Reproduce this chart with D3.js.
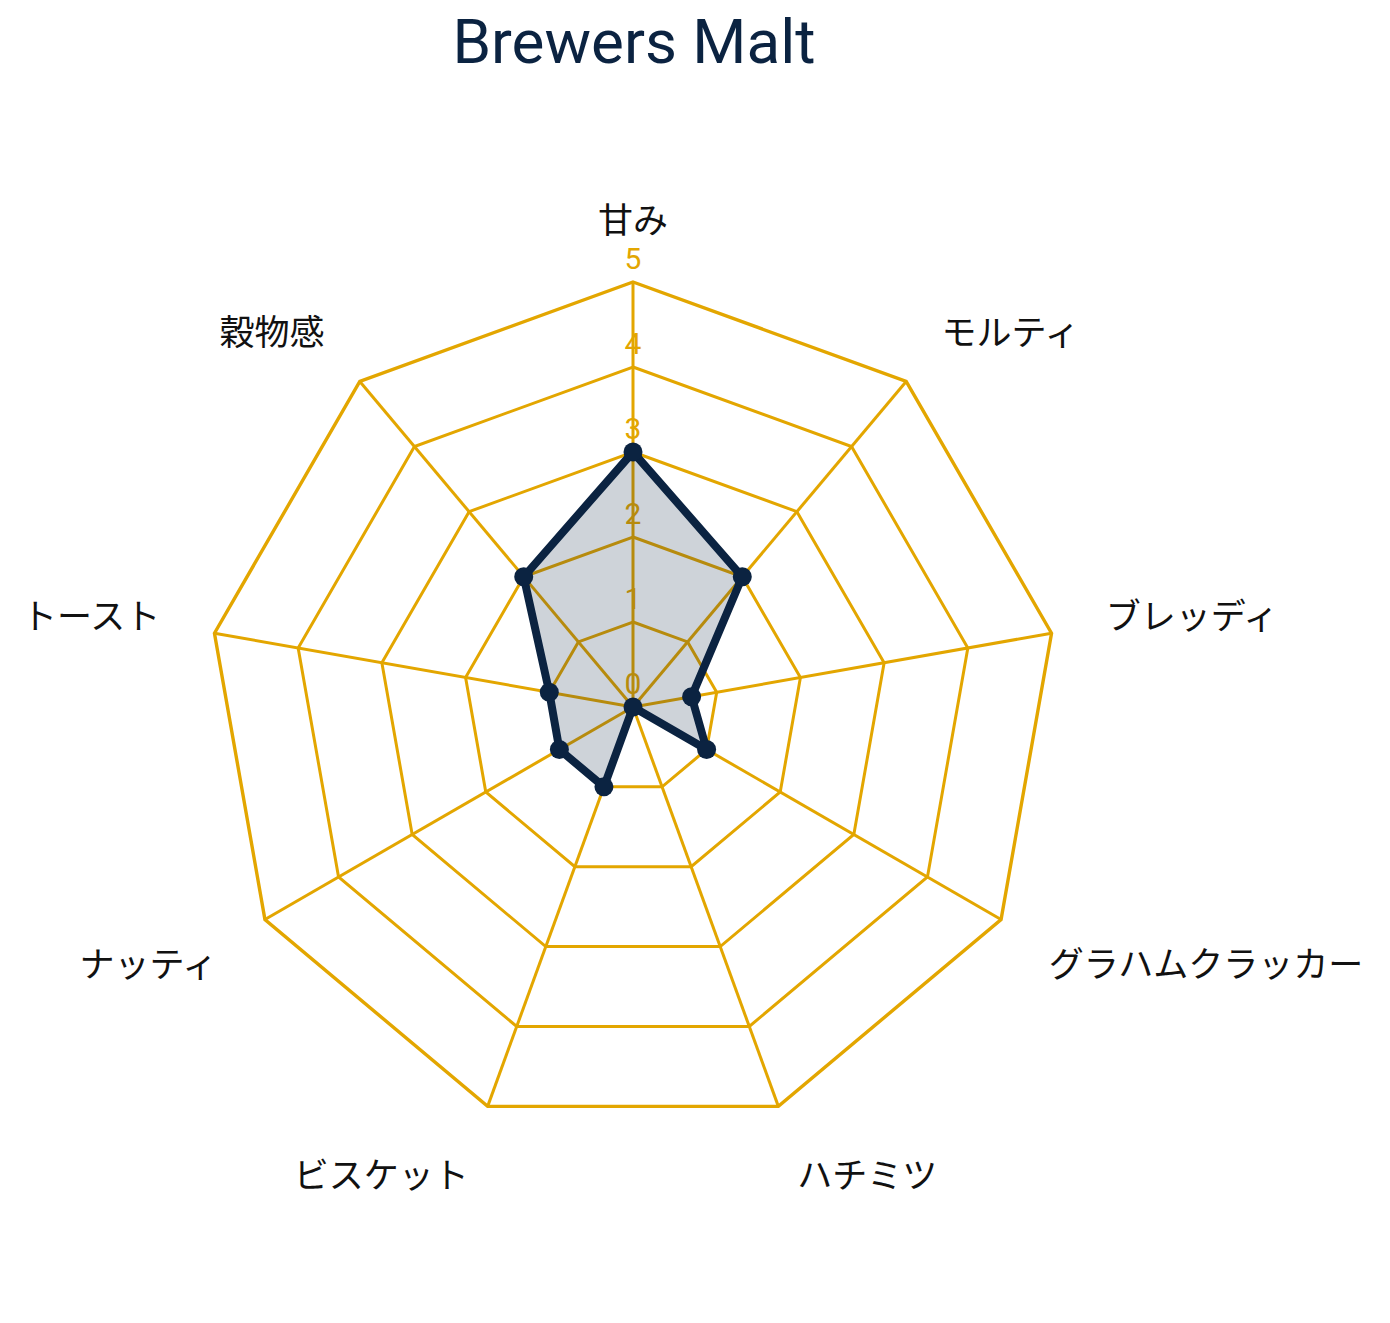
<!DOCTYPE html>
<html>
<head>
<meta charset="utf-8">
<script src="https://cdn.jsdelivr.net/npm/d3@7"></script>
<style>
  body { margin: 0; background: #fff; }
</style>
</head>
<body>
<div id="radar-chart"></div>
<script>
// data
let axes = ["甘み", "モルティ", "ブレッディ", "グラハムクラッカー", "ハチミツ", "ビスケット", "ナッティ", "トースト", "穀物感"];
let values = [3, 2, 0.7, 1, 0, 1, 1, 1, 2];
let ticks = [0, 1, 2, 3, 4, 5];
let title = "Brewers Malt";

let width = 1390;
let height = 1323;
let cx = 633, cy = 707;
let radius = 425;

let gold = "#E3A600";
let navy = "#0B2341";

let svg = d3.select("#radar-chart").append("svg")
    .attr("width", width)
    .attr("height", height);

let g = svg.append("g")
    .attr("transform", "translate(" + cx + "," + cy + ")");

// scales
let r = d3.scaleLinear()
    .domain([0, 5])
    .range([0, radius]);

let angle = d3.scalePoint()
    .domain(axes)
    .range([0, 2 * Math.PI * (axes.length - 1) / axes.length]);

let ringLine = d3.lineRadial()
    .angle(d => angle(d))
    .curve(d3.curveLinearClosed);

// grid rings
g.selectAll(".ring")
    .data(ticks.filter(t => t > 0))
    .enter().append("path")
    .attr("class", "ring")
    .attr("d", t => ringLine.radius(r(t))(axes))
    .attr("fill", "none")
    .attr("stroke", gold)
    .attr("stroke-width", t => t === 5 ? 3.4 : 3)
    .attr("stroke-linejoin", "miter");

// spokes
g.selectAll(".spoke")
    .data(axes)
    .enter().append("line")
    .attr("class", "spoke")
    .attr("x1", 0).attr("y1", 0)
    .attr("x2", d => r(5) * Math.sin(angle(d)))
    .attr("y2", d => -r(5) * Math.cos(angle(d)))
    .attr("stroke", gold)
    .attr("stroke-width", 3);

// tick labels
g.selectAll(".tick-label")
    .data(ticks)
    .enter().append("text")
    .attr("class", "tick-label")
    .attr("x", 0)
    .attr("y", t => -r(t) - 24)
    .attr("text-anchor", "middle")
    .attr("dominant-baseline", "central")
    .attr("font-family", "Roboto, sans-serif")
    .attr("font-size", 30)
    .attr("fill", gold)
    .text(d => d);

// data polygon
let dataLine = d3.lineRadial()
    .angle((d, i) => angle(axes[i]))
    .radius(d => r(d))
    .curve(d3.curveLinearClosed);

g.append("path")
    .datum(values)
    .attr("d", dataLine)
    .attr("fill", navy)
    .attr("fill-opacity", 0.2)
    .attr("stroke", navy)
    .attr("stroke-width", 8)
    .attr("stroke-linejoin", "round");

g.selectAll(".point")
    .data(values)
    .enter().append("circle")
    .attr("class", "point")
    .attr("cx", (d, i) => r(d) * Math.sin(angle(axes[i])))
    .attr("cy", (d, i) => -r(d) * Math.cos(angle(axes[i])))
    .attr("r", 9.5)
    .attr("fill", navy);

// axis labels
let labelR = 480;
g.selectAll(".axis-label")
    .data(axes)
    .enter().append("text")
    .attr("class", "axis-label")
    .attr("x", d => labelR * Math.sin(angle(d)))
    .attr("y", d => {
        let c = Math.cos(angle(d));
        return -labelR * c + (c > 0.01 ? -10 : 14);
    })
    .attr("text-anchor", d => {
        let s = Math.sin(angle(d));
        if (Math.abs(s) < 0.01) return "middle";
        return s > 0 ? "start" : "end";
    })
    .attr("dominant-baseline", "central")
    .attr("font-family", "'Noto Sans CJK JP', sans-serif")
    .attr("font-size", 35)
    .attr("fill", "#111")
    .text(d => d);

// title
svg.append("text")
    .attr("x", 634)
    .attr("y", 63)
    .attr("text-anchor", "middle")
    .attr("font-family", "Roboto, sans-serif")
    .attr("font-size", 62)
    .attr("fill", navy)
    .text(title);
</script>
</body>
</html>
